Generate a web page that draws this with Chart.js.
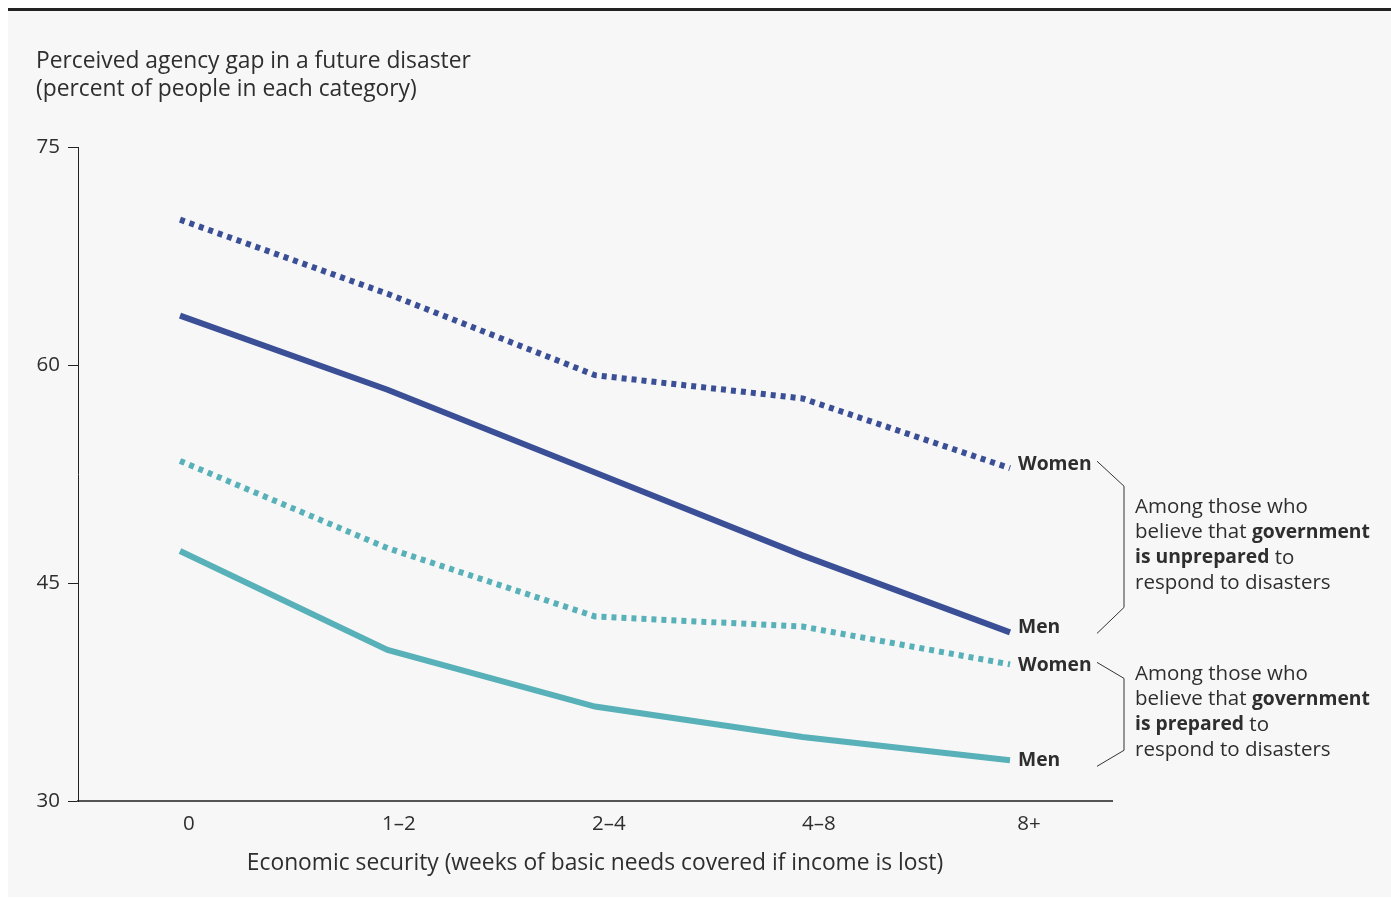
<!DOCTYPE html>
<html>
<head>
<meta charset="utf-8">
<script src="https://cdn.jsdelivr.net/npm/chart.js@4/dist/chart.umd.min.js"></script>
<style>
  html, body { margin: 0; padding: 0; background: #ffffff; }
  #panel { position: absolute; left: 8px; top: 8px; width: 1383px; height: 889px; background: #f7f7f7; border-top: 3px solid #222; box-sizing: border-box; }
  #wrap { position: absolute; left: 0; top: 0; width: 1391px; height: 898px; }
</style>
</head>
<body>
<div id="panel"></div>
<div id="wrap"><canvas id="c" width="1391" height="898"></canvas></div>
<script>
const categories = ['0', '1–2', '2–4', '4–8', '8+'];
const womenUnprepared = [70.0, 64.9, 59.3, 57.7, 52.9];
const menUnprepared   = [63.4, 58.3, 52.6, 46.9, 41.6];
const womenPrepared   = [53.4, 47.4, 42.7, 42.0, 39.4];
const menPrepared     = [47.2, 40.4, 36.5, 34.4, 32.8];
const yTicks = [30, 45, 60, 75];
const yTitle = ['Perceived agency gap in a future disaster', '(percent of people in each category)'];
const xTitle = 'Economic security (weeks of basic needs covered if income is lost)';
const seriesLabels = ['Women', 'Men', 'Women', 'Men'];
const noteUnprepared = [[['Among those who', false]], [['believe that ', false], ['government', true]], [['is unprepared', true], [' to', false]], [['respond to disasters', false]]];
const notePrepared = [[['Among those who', false]], [['believe that ', false], ['government', true]], [['is prepared', true], [' to', false]], [['respond to disasters', false]]];

const DARK = '#3a4f96';
const TEAL = '#58b1b8';
const TEXT = '#2e2e2e';
const FONT = '"Open Sans", sans-serif';

// fit font scale so title width matches reference
const mctx = document.createElement('canvas').getContext('2d');
mctx.font = '20px ' + FONT;
const K = Math.min(1.3, Math.max(0.8, 434 / mctx.measureText(yTitle[0]).width));
const fs = s => Math.round(s * K * 10) / 10;

const toPts = arr => arr.map((v, i) => ({ x: i, y: v }));

const annot = {
  id: 'annot',
  afterDraw(chart) {
    const ctx = chart.ctx;
    const xs = chart.scales.x, ys = chart.scales.y;
    ctx.save();
    ctx.fillStyle = TEXT;
    ctx.font = fs(20) + 'px ' + FONT;
    ctx.textBaseline = 'middle';
    ctx.textAlign = 'left';
    ctx.fillText(yTitle[0], 36, 62);
    ctx.fillText(yTitle[1], 36, 90);

    const ends = [womenUnprepared, menUnprepared, womenPrepared, menPrepared];
    const dys = [-4, -5, 1, 0];
    const lx = xs.getPixelForValue(categories.length - 1) + 8;
    ctx.font = 'bold ' + fs(17) + 'px ' + FONT;
    const ly = ends.map((s, k) => ys.getPixelForValue(s[s.length - 1]) + dys[k]);
    ends.forEach((s, k) => ctx.fillText(seriesLabels[k], lx, ly[k]));

    ctx.strokeStyle = '#333';
    ctx.lineWidth = 1;
    const bx0 = 1097, bx1 = 1124;
    function bracket(yTop, yBot, dTop, dBot) {
      ctx.beginPath();
      ctx.moveTo(bx0, yTop - 3);
      ctx.lineTo(bx1, yTop - 3 + dTop);
      ctx.lineTo(bx1, yBot + 6 - dBot);
      ctx.lineTo(bx0, yBot + 6);
      ctx.stroke();
    }
    bracket(ly[0], ly[1], 25, 26);
    bracket(ly[2], ly[3], 16, 16);

    function note(lines, yStart) {
      lines.forEach((segs, i) => {
        let x = 1135;
        segs.forEach(([t, b]) => {
          ctx.font = (b ? 'bold ' + fs(17) : fs(18)) + 'px ' + FONT;
          ctx.fillText(t, x, yStart + i * 25.5);
          x += ctx.measureText(t).width;
        });
      });
    }
    note(noteUnprepared, 507);
    note(notePrepared, 674);
    ctx.restore();
  }
};

const mk = (label, data, color, dashed) => ({
  label, data: toPts(data), borderColor: color, backgroundColor: color,
  borderWidth: 6, pointRadius: 0, tension: 0, fill: false,
  borderDash: dashed ? [5, 5] : [], borderCapStyle: 'butt', borderJoinStyle: 'miter'
});

new Chart(document.getElementById('c'), {
  type: 'line',
  data: {
    datasets: [
      mk('Women (unprepared)', womenUnprepared, DARK, true),
      mk('Men (unprepared)', menUnprepared, DARK, false),
      mk('Women (prepared)', womenPrepared, TEAL, true),
      mk('Men (prepared)', menPrepared, TEAL, false)
    ]
  },
  options: {
    responsive: false,
    animation: false,
    events: [],
    layout: { padding: { left: 0, top: 147, right: 279, bottom: 0 } },
    plugins: { legend: { display: false }, tooltip: { enabled: false } },
    scales: {
      x: {
        type: 'linear',
        min: -0.4916, max: 4.4916,
        afterBuildTicks: s => { s.ticks = categories.map((c, i) => ({ value: i * 1.012 + 0.043 })); },
        afterFit: s => { s.height = 97; },
        grid: { display: false, drawTicks: false },
        border: { display: true, color: '#555', width: 2 },
        ticks: { callback: v => categories[Math.round(v)], color: TEXT, font: { family: FONT, size: fs(18) }, padding: 11, maxRotation: 0, autoSkip: false },
        title: { display: true, text: xTitle, color: TEXT, font: { family: FONT, size: fs(20) }, padding: { top: 10, bottom: 21 } }
      },
      y: {
        min: 30, max: 75,
        afterBuildTicks: s => { s.ticks = yTicks.map(v => ({ value: v })); },
        afterFit: s => { s.width = 78; },
        grid: { drawOnChartArea: false, drawTicks: true, tickLength: 10, color: '#222', tickWidth: 1 },
        border: { display: true, color: '#222', width: 1 },
        ticks: { color: TEXT, font: { family: FONT, size: fs(18) }, padding: 8 }
      }
    }
  },
  plugins: [annot]
});
</script>
</body>
</html>
